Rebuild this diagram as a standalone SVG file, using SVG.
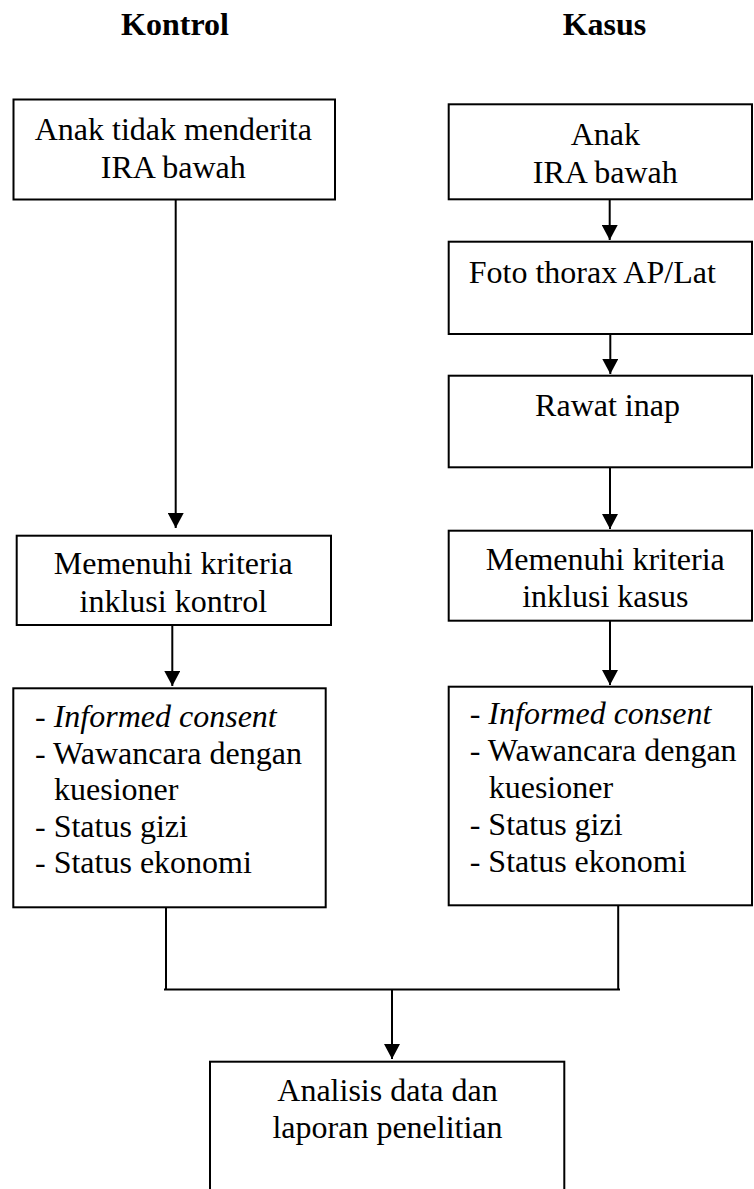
<svg xmlns="http://www.w3.org/2000/svg" width="754" height="1189" viewBox="0 0 754 1189">
<style>
  .box{fill:#fff;stroke:#000;stroke-width:2}
  .t{font-family:"Liberation Serif","Times New Roman",serif;font-size:32px;fill:#000}
  .c{text-anchor:middle}
  .b{font-weight:bold}
  .i{font-style:italic}
  .ln{fill:none;stroke:#000;stroke-width:2}
</style>
<defs>
  <marker id="ah" viewBox="0 0 15 16" refX="15" refY="8" markerWidth="15" markerHeight="16" markerUnits="userSpaceOnUse" orient="auto">
    <path d="M0,0 L15,8 L0,16 z" fill="#000"/>
  </marker>
</defs>
<rect width="754" height="1189" fill="#fff"/>

<g id="titles">
  <text class="t b c" x="175" y="35">Kontrol</text>
  <text class="t b c" x="604.5" y="35">Kasus</text>
</g>

<g id="connectors">
  <path class="ln" d="M175.7,199.5 V528" marker-end="url(#ah)"/>
  <path class="ln" d="M172.3,625 V686" marker-end="url(#ah)"/>
  <path class="ln" d="M609.7,199.3 V240" marker-end="url(#ah)"/>
  <path class="ln" d="M610.3,334 V374" marker-end="url(#ah)"/>
  <path class="ln" d="M610,467.3 V529" marker-end="url(#ah)"/>
  <path class="ln" d="M610,620.7 V685" marker-end="url(#ah)"/>
  <path class="ln" d="M166,907 V989.5 M618.2,905 V989.5 M164,989.5 H620"/>
  <path class="ln" d="M392,989.5 V1059" marker-end="url(#ah)"/>
</g>

<g id="node-kontrol-anak">
  <rect class="box" x="13.5" y="99.5" width="321.5" height="100"/>
  <text class="t c" x="173.3" y="139.5">Anak tidak menderita</text>
  <text class="t c" x="173.3" y="177.5">IRA bawah</text>
</g>

<g id="node-kasus-anak">
  <rect class="box" x="448.7" y="104.3" width="303.3" height="95"/>
  <text class="t c" x="605.3" y="145">Anak</text>
  <text class="t c" x="605.3" y="182.7">IRA bawah</text>
</g>

<g id="node-foto">
  <rect class="box" x="448.7" y="241.7" width="303.3" height="92.3"/>
  <text class="t" x="468.7" y="282.7">Foto thorax AP/Lat</text>
</g>

<g id="node-rawat">
  <rect class="box" x="448.7" y="375.7" width="303.3" height="91.6"/>
  <text class="t c" x="607.5" y="416">Rawat inap</text>
</g>

<g id="node-kriteria-kontrol">
  <rect class="box" x="16.7" y="535.7" width="314.3" height="89.3"/>
  <text class="t c" x="173.3" y="574.3">Memenuhi kriteria</text>
  <text class="t c" x="173.3" y="611.7">inklusi kontrol</text>
</g>

<g id="node-kriteria-kasus">
  <rect class="box" x="448.7" y="530.7" width="303.3" height="90"/>
  <text class="t c" x="605.3" y="570">Memenuhi kriteria</text>
  <text class="t c" x="605.3" y="606.7">inklusi kasus</text>
</g>

<g id="node-data-kontrol">
  <rect class="box" x="13.3" y="688.3" width="312.4" height="219"/>
  <text class="t" x="35" y="727.3">- <tspan class="i">Informed consent</tspan></text>
  <text class="t" x="35" y="763.8">- Wawancara dengan</text>
  <text class="t" x="54" y="800.3">kuesioner</text>
  <text class="t" x="35" y="836.8">- Status gizi</text>
  <text class="t" x="35" y="873.3">- Status ekonomi</text>
</g>

<g id="node-data-kasus">
  <rect class="box" x="448.7" y="686.7" width="303.3" height="218.6"/>
  <text class="t" x="469.7" y="723.5">- <tspan class="i">Informed consent</tspan></text>
  <text class="t" x="469.7" y="760.5">- Wawancara dengan</text>
  <text class="t" x="488.7" y="797.5">kuesioner</text>
  <text class="t" x="469.7" y="834.5">- Status gizi</text>
  <text class="t" x="469.7" y="871.5">- Status ekonomi</text>
</g>

<g id="node-analisis">
  <rect class="box" x="210" y="1061.7" width="354.3" height="150"/>
  <text class="t c" x="387.5" y="1101">Analisis data dan</text>
  <text class="t c" x="387.5" y="1137.7">laporan penelitian</text>
</g>
</svg>
